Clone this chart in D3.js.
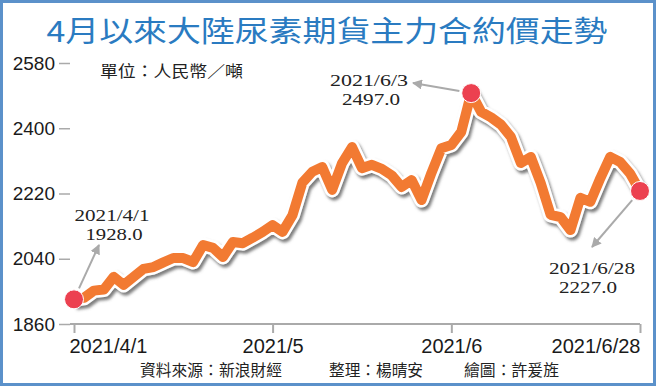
<!DOCTYPE html>
<html>
<head>
<meta charset="utf-8">
<script src="https://cdn.jsdelivr.net/npm/d3@7"></script>
<style>
  html, body { margin: 0; padding: 0; background: #fff; }
  svg { display: block; }
</style>
</head>
<body>
<svg id="chart" width="656" height="386"></svg>
<script>
// ---- data ----
const title = "4月以來大陸尿素期貨主力合約價走勢";
const unitLabel = "單位：人民幣／噸";
const footer = ["資料來源：新浪財經", "整理：楊晴安", "繪圖：許爰旌"];
// daily closing prices (trading-day index 0 = 2021/4/1, 57 = 2021/6/28)
const prices = [
  1928, 1932, 1952, 1955, 1990, 1968, 1990, 2012, 2017, 2030,
  2042, 2042, 2031, 2078, 2070, 2045, 2086, 2083, 2098, 2114,
  2133, 2114, 2160, 2250, 2280, 2293, 2230, 2304, 2348, 2290,
  2299, 2288, 2270, 2238, 2257, 2202, 2277, 2345, 2354, 2390,
  2497, 2445, 2430, 2410, 2376, 2304, 2321, 2249, 2161, 2155,
  2119, 2208, 2197, 2262, 2321, 2307, 2275, 2227
];
const yTicks = [1860, 2040, 2220, 2400, 2580];
const xTickIdx = [0, 20, 38, 57];
const xTickLabels = ["2021/4/1", "2021/5", "2021/6", "2021/6/28"];
const highlights = [
  { idx: 0,  date: "2021/4/1",  value: 1928 },
  { idx: 40, date: "2021/6/3",  value: 2497 },
  { idx: 57, date: "2021/6/28", value: 2227 }
];

// ---- setup ----
const svg = d3.select("#chart");
const x = d3.scaleLinear().domain([0, prices.length - 1]).range([74, 640]);
const y = d3.scaleLinear().domain([1860, 2580]).range([324, 63]);

// frame
svg.append("rect").attr("x", 1.5).attr("y", 1.5).attr("width", 653).attr("height", 383)
  .attr("fill", "#fff").attr("stroke", "#5b91ca").attr("stroke-width", 3);

// title
svg.append("text").attr("x", 327).attr("y", 42).attr("text-anchor", "middle")
  .attr("font-family", "'Noto Sans CJK TC', 'Noto Sans CJK SC', sans-serif")
  .attr("font-size", 29).attr("font-weight", 400).attr("fill", "#2a7bc1")
  .attr("textLength", 561).attr("lengthAdjust", "spacingAndGlyphs")
  .text(title);

// unit
svg.append("text").attr("x", 100).attr("y", 77)
  .attr("font-family", "'Noto Sans CJK TC', sans-serif")
  .attr("font-size", 16).attr("fill", "#222")
  .attr("textLength", 143).attr("lengthAdjust", "spacingAndGlyphs")
  .text(unitLabel);

// y axis
const yAxis = svg.append("g").attr("transform", "translate(70,0)")
  .call(d3.axisLeft(y).tickValues(yTicks).tickSize(11).tickPadding(4).tickFormat(d3.format("d")));
yAxis.select(".domain").remove();
yAxis.selectAll(".tick line").attr("stroke", "#aaa").attr("stroke-width", 1.5);
yAxis.selectAll(".tick text").attr("font-family", "'Liberation Sans', Arial, sans-serif")
  .attr("font-size", 19).attr("fill", "#1a1a1a");

// x axis
const xAxis = svg.append("g").attr("transform", "translate(0,324)")
  .call(d3.axisBottom(x).tickValues(xTickIdx).tickSize(9).tickSizeOuter(0)
    .tickFormat((d, i) => xTickLabels[i]));
xAxis.select(".domain").attr("stroke", "#aaa").attr("stroke-width", 2)
  .attr("d", `M70,0H${x(prices.length - 1)}`);
xAxis.selectAll(".tick line").attr("stroke", "#aaa").attr("stroke-width", 2);
xAxis.selectAll(".tick text").attr("font-family", "'Liberation Sans', Arial, sans-serif")
  .attr("font-size", 20).attr("fill", "#1a1a1a").attr("y", 29).attr("dy", 0)
  .attr("text-anchor", (d, i) => i === 0 ? "start" : (i === xTickIdx.length - 1 ? "end" : "middle"))
  .attr("dx", (d, i) => i === 0 ? -5 : 0);

// footer
const footerX = [140, 329, 464];
const footerW = [142, 94, 95];
svg.selectAll(".footer").data(footer).join("text").attr("class", "footer")
  .attr("x", (d, i) => footerX[i]).attr("y", 376)
  .attr("font-family", "'Noto Sans CJK TC', sans-serif").attr("font-size", 15.5)
  .attr("fill", "#222")
  .attr("textLength", (d, i) => footerW[i]).attr("lengthAdjust", "spacingAndGlyphs")
  .text(d => d);

// line with white outline and shadow
const defs = svg.append("defs");
const f = defs.append("filter").attr("id", "shadow").attr("x", "-10%").attr("y", "-10%")
  .attr("width", "120%").attr("height", "130%");
f.append("feDropShadow").attr("dx", 2).attr("dy", 3).attr("stdDeviation", 1.5)
  .attr("flood-color", "#666").attr("flood-opacity", 0.85);
const mk = defs.append("marker").attr("id", "arrow").attr("viewBox", "0 0 10 10")
  .attr("refX", 9).attr("refY", 5).attr("markerWidth", 5).attr("markerHeight", 5)
  .attr("orient", "auto").attr("markerUnits", "strokeWidth");
mk.append("path").attr("d", "M0,0L10,5L0,10z").attr("fill", "#aaa");

const line = d3.line().x((d, i) => x(i)).y(d => y(d));
const lg = svg.append("g").attr("filter", "url(#shadow)");
lg.append("path").datum(prices).attr("d", line).attr("fill", "none")
  .attr("stroke", "#fff").attr("stroke-width", 15).attr("stroke-linejoin", "round");
lg.append("path").datum(prices).attr("d", line).attr("fill", "none")
  .attr("stroke", "#f27a32").attr("stroke-width", 10).attr("stroke-linejoin", "round");

// arrows
const arrowTips = [[99, 245], [413, 83], [592, 247]];
const arrowGap = [12, 12, 12];
highlights.forEach((h, i) => {
  const cx = x(h.idx), cy = y(h.value);
  const [tx, ty] = arrowTips[i];
  const dx = tx - cx, dy = ty - cy, L = Math.hypot(dx, dy);
  svg.append("line")
    .attr("x1", cx + dx / L * arrowGap[i]).attr("y1", cy + dy / L * arrowGap[i])
    .attr("x2", tx).attr("y2", ty)
    .attr("stroke", "#aaa").attr("stroke-width", 2).attr("marker-end", "url(#arrow)");
});

// dots
svg.selectAll(".dot").data(highlights).join("circle").attr("class", "dot")
  .attr("cx", d => x(d.idx)).attr("cy", d => y(d.value)).attr("r", 9.5)
  .attr("fill", "#ec4150").attr("stroke", "#fff").attr("stroke-width", 1);

// annotation texts: [x1, baseline1, width1, x2, baseline2, width2]
const annPos = [[112, 221, 75, 114, 240, 57], [369, 86, 78, 371, 105, 58], [592, 274, 86, 588, 293, 58]];
highlights.forEach((h, i) => {
  const p = annPos[i];
  const g = svg.append("g").attr("font-family", "'Liberation Serif', 'Times New Roman', serif")
    .attr("font-size", 16.5).attr("fill", "#222").attr("text-anchor", "middle");
  g.append("text").attr("x", p[0]).attr("y", p[1])
    .attr("textLength", p[2]).attr("lengthAdjust", "spacingAndGlyphs").text(h.date);
  g.append("text").attr("x", p[3]).attr("y", p[4])
    .attr("textLength", p[5]).attr("lengthAdjust", "spacingAndGlyphs")
    .text(d3.format(".1f")(h.value));
});
</script>
</body>
</html>
